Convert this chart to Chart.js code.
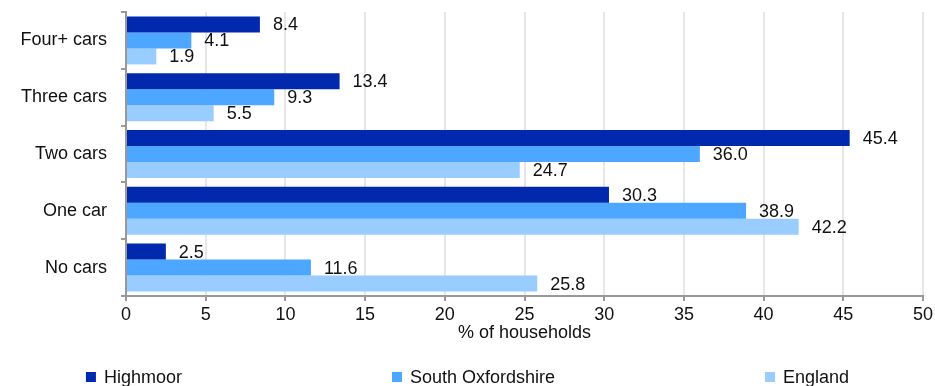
<!DOCTYPE html>
<html>
<head>
<meta charset="utf-8">
<script src="https://cdn.jsdelivr.net/npm/chart.js@4/dist/chart.umd.min.js"></script>
<style>
  html, body { margin: 0; padding: 0; background: #fff; }
  #wrap { width: 935px; height: 386px; }
</style>
</head>
<body>
<div id="wrap"><canvas id="myChart" width="935" height="386"></canvas></div>
<script>
// categories and series
var categories = ['Four+ cars', 'Three cars', 'Two cars', 'One car', 'No cars'];
var highmoor = [8.4, 13.4, 45.4, 30.3, 2.5];
var southOxon = [4.1, 9.3, 36.0, 38.9, 11.6];
var england = [1.9, 5.5, 24.7, 42.2, 25.8];
var seriesNames = ['Highmoor', 'South Oxfordshire', 'England'];
var seriesColors = ['#0029AD', '#4DA6FF', '#99CCFF'];

var FONT = '"Liberation Sans", Arial, sans-serif';

// value labels just past the end of each bar
var valueLabels = {
    id: 'valueLabels',
    afterDatasetsDraw: function(chart) {
        var ctx = chart.ctx;
        ctx.save();
        ctx.font = '18px ' + FONT;
        ctx.fillStyle = '#111';
        ctx.textAlign = 'left';
        ctx.textBaseline = 'middle';
        chart.data.datasets.forEach(function(ds, i) {
            chart.getDatasetMeta(i).data.forEach(function(bar, j) {
                ctx.fillText(ds.data[j].toFixed(1), bar.x + 13, bar.y + 1);
            });
        });
        ctx.restore();
    }
};

// legend row at the bottom, items spread with wide gaps
var bottomLegend = {
    id: 'bottomLegend',
    afterDraw: function(chart) {
        var ctx = chart.ctx;
        var gap = 210, box = 10, boxGap = 8;
        ctx.save();
        ctx.font = '18px ' + FONT;
        var widths = seriesNames.map(function(n) { return box + boxGap + ctx.measureText(n).width; });
        var total = widths.reduce(function(a, b) { return a + b; }, 0) + gap * (widths.length - 1);
        var x = (chart.width - total) / 2;
        var y = 377;
        ctx.textBaseline = 'middle';
        ctx.textAlign = 'left';
        seriesNames.forEach(function(n, i) {
            ctx.fillStyle = seriesColors[i];
            ctx.fillRect(x, y - 5, box, box);
            ctx.fillStyle = '#111';
            ctx.fillText(n, x + box + boxGap, y + 1);
            x += widths[i] + gap;
        });
        ctx.restore();
    }
};

var ctx = document.getElementById('myChart').getContext('2d');
var chart = new Chart(ctx, {
    type: 'bar',
    data: {
        labels: categories,
        datasets: [
            { label: seriesNames[0], data: highmoor, backgroundColor: seriesColors[0] },
            { label: seriesNames[1], data: southOxon, backgroundColor: seriesColors[1] },
            { label: seriesNames[2], data: england, backgroundColor: seriesColors[2] }
        ]
    },
    options: {
        indexAxis: 'y',
        responsive: false,
        animation: false,
        devicePixelRatio: 1,
        categoryPercentage: 0.845,
        barPercentage: 1,
        layout: { padding: { top: 12, right: 12, bottom: 44, left: 0 } },
        plugins: {
            legend: { display: false },
            tooltip: { enabled: false }
        },
        scales: {
            x: {
                min: 0,
                max: 50,
                afterFit: function(scale) { scale.paddingLeft = 0; scale.paddingRight = 0; },
                ticks: {
                    stepSize: 5,
                    color: '#111',
                    padding: 5,
                    font: { family: FONT, size: 18, lineHeight: 1 }
                },
                grid: {
                    color: '#e6e6e6',
                    lineWidth: 2,
                    tickColor: '#999',
                    tickLength: 5
                },
                border: { display: true, color: '#999', width: 2 },
                title: {
                    display: true,
                    text: '% of households',
                    color: '#111',
                    padding: { top: -5, bottom: 0 },
                    font: { family: FONT, size: 18, lineHeight: 1 }
                }
            },
            y: {
                afterFit: function(scale) {
                    scale.width = 126;
                    scale.paddingTop = 0;
                    scale.paddingBottom = 0;
                },
                ticks: {
                    color: '#111',
                    padding: 14,
                    font: { family: FONT, size: 18 }
                },
                grid: {
                    drawOnChartArea: false,
                    tickColor: '#999',
                    tickLength: 5,
                    lineWidth: 2
                },
                border: { display: true, color: '#999', width: 2 }
            }
        }
    },
    plugins: [valueLabels, bottomLegend]
});
</script>
</body>
</html>
